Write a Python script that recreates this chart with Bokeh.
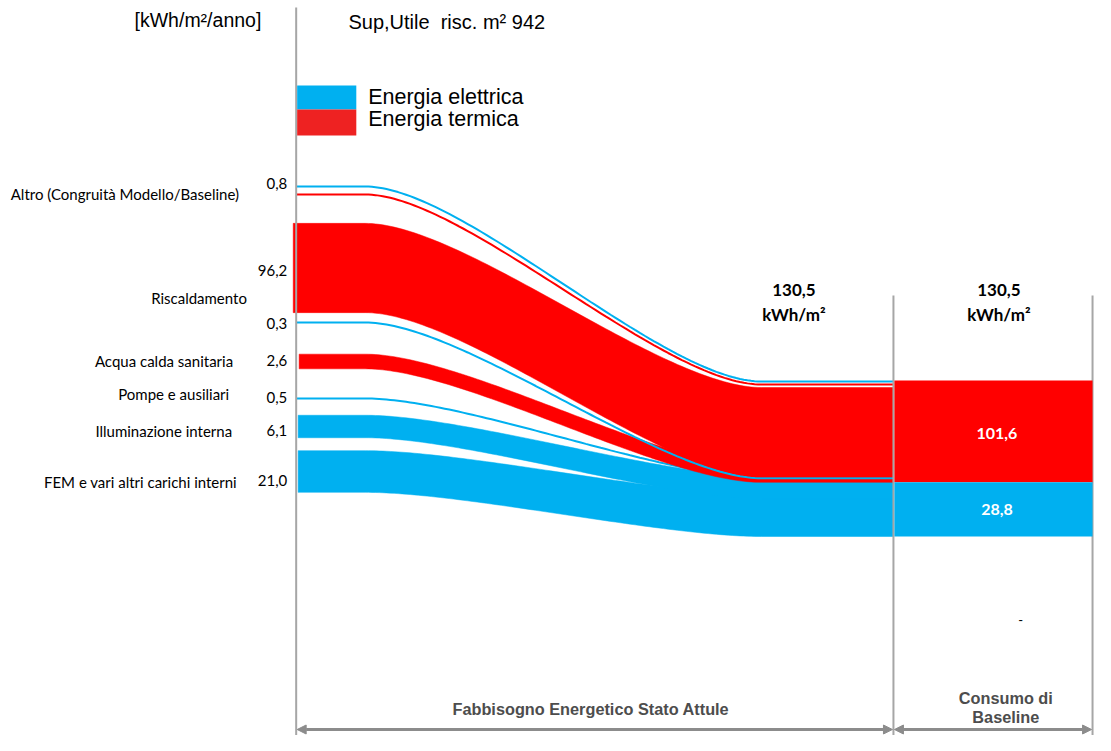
import numpy as np
from bokeh.plotting import figure
from bokeh.models import Range1d, Arrow, NormalHead
from bokeh.core.properties import value
from bokeh.embed import file_html
from bokeh.resources import INLINE

# ------------------------------------------------------------------ data
categories = ["Altro (Congruità Modello/Baseline)", "Riscaldamento",
              "Acqua calda sanitaria", "Pompe e ausiliari",
              "Illuminazione interna", "FEM e vari altri carichi interni"]
row_values = [0.8, 96.2, 0.3, 2.6, 0.5, 6.1, 21.0]          # kWh/m²/anno labels

flow_names = ["Altro E", "Altro T", "Riscaldamento", "Riscaldamento aux",
              "Acqua calda sanitaria", "Pompe e ausiliari",
              "Illuminazione interna", "FEM e vari altri carichi interni"]
flow_carrier = ["E", "T", "T", "E", "T", "E", "E", "E"]
flow_values = [0.4, 0.4, 96.2, 0.3, 2.6, 0.5, 6.1, 21.0]

baseline_carriers = ["T", "E"]
baseline_values = [101.6, 28.8]
total_value = 130.5
surface_m2 = 942

legend_labels = ["Energia elettrica", "Energia termica"]

# ------------------------------------------------------------------ layout / style
BLUE = "#00B0F0"
RED = "#FF0000"
LEG_RED = "#EE2222"
GRAY = "#A6A6A6"
ARROW_GRAY = "#8C8C8C"
CAL = "Lato"
ARIAL = "Liberation Sans"

K_LEFT = 9.1      # px per sqrt(unit) for left bands
K_RIGHT = 10.1    # px per sqrt(unit) for right column
THIN = 2.0
X_LINE, X_MID, X_RIGHT = 300, 906, 1108
X_C0, X_C1, HANDLE = 370, 772, 0.25
RIGHT_TOP = 380
BLUE_OVERLAP = 4

flow_left_center = [186, 194, 267.5, 322, 361, 398, 426, 471]
value_label_y = [183, 270, 323, 360, 397, 430, 480]
name_label_y = [193, 297, 360, 393, 430, 481]
name_label_x = [242, 250, 236, 232, 235, 240]


def fmt(v):
    return f"{v:.1f}".replace(".", ",")


def thickness(v):
    return K_LEFT * np.sqrt(v) if v >= 1 else THIN


def curve(y0, y1, x_start=X_LINE + 1, n=90):
    t = np.linspace(0, 1, n)
    w = X_C1 - X_C0
    x = X_C0 + w * (3 * (1 - t) ** 2 * t * HANDLE + 3 * (1 - t) * t ** 2 * (1 - HANDLE) + t ** 3)
    y = y0 + (y1 - y0) * (3 * t ** 2 - 2 * t ** 3)
    return (np.concatenate([[x_start], x, [X_MID]]),
            np.concatenate([[y0], y, [y1]]))


th = [thickness(v) for v in flow_values]

# right column extents
col_h = [K_RIGHT * np.sqrt(v) for v in baseline_values]
col_top = [RIGHT_TOP, RIGHT_TOP + col_h[0]]
col_bot = [RIGHT_TOP + col_h[0], RIGHT_TOP + col_h[0] + col_h[1]]

# right-end top edges of each flow
rt = [0.0] * 8
rt[0] = col_top[0]                       # Altro E
rt[1] = rt[0] + th[0] + 1                # Altro T
rt[2] = rt[1] + th[1] + 2                # Riscaldamento
rt[3] = rt[2] + th[2] + 0.5              # Riscaldamento aux (line)
rt[4] = col_bot[0] - th[4]               # Acqua: bottom on red column bottom
rt[7] = col_bot[1] - th[7]               # FEM: bottom on blue column bottom
rt[6] = rt[7] + BLUE_OVERLAP - th[6]     # Illuminazione
rt[5] = rt[6]                            # Pompe (line)

left_start = [X_LINE, X_LINE, X_LINE - 3, X_LINE, X_LINE + 3, X_LINE, X_LINE + 2, X_LINE + 2]
draw_order = [7, 6, 5, 4, 3, 2, 1, 0]

# ------------------------------------------------------------------ figure
p = figure(width=1095, height=735, output_backend="svg", toolbar_location=None,
           x_range=Range1d(0, 1111), y_range=Range1d(735, 0),
           x_axis_location=None, y_axis_location=None, min_border=0)
p.grid.visible = False
p.outline_line_color = None
p.background_fill_color = "white"
p.border_fill_color = "white"

# flows
for i in draw_order:
    col = BLUE if flow_carrier[i] == "E" else RED
    lt = flow_left_center[i] - th[i] / 2
    if flow_values[i] >= 1:
        xt, yt = curve(lt, rt[i], left_start[i])
        xb, yb = curve(lt + th[i], rt[i] + th[i], left_start[i])
        p.patch(x=list(xt) + list(xb[::-1]), y=list(yt) + list(yb[::-1]),
                fill_color=col, line_color=col, line_width=0.5)
    else:
        xc, yc = curve(flow_left_center[i], rt[i] + th[i] / 2, left_start[i])
        p.line(x=xc, y=yc, line_color=col, line_width=2)

# vertical guide lines
p.segment(x0=[X_LINE, X_MID, X_RIGHT], y0=[7, 295, 295],
          x1=[X_LINE, X_MID, X_RIGHT], y1=[751, 751, 751],
          line_color=GRAY, line_width=2)

# right baseline column
p.quad(left=[X_MID + 1] * 2, right=[X_RIGHT] * 2, top=col_top, bottom=col_bot,
       fill_color=[RED if c == "T" else BLUE for c in baseline_carriers],
       line_color=None)
p.text(x=[1011] * 2, y=[433, 509],
       text=[fmt(v) for v in baseline_values], text_color="white",
       text_font=value(CAL), text_font_style="bold", text_font_size="16px",
       text_align="center", text_baseline="middle")

# totals
for xc in (805, 1013):
    p.text(x=[xc, xc], y=[289, 314], text=[fmt(total_value), "kWh/m²"],
           text_color="black", text_font=value(CAL), text_font_style="bold",
           text_font_size="17px", text_align="center", text_baseline="middle")

# left labels
p.text(x=name_label_x, y=name_label_y, text=categories, text_color="black",
       text_font=value(CAL), text_font_size="15px", text_align="right",
       text_baseline="middle")
p.text(x=[291] * len(row_values), y=value_label_y, text=[fmt(v) for v in row_values],
       text_color="black", text_font=value(CAL), text_font_size="15px",
       text_align="right", text_baseline="middle")

# headers
p.text(x=[136], y=[19], text=["[kWh/m²/anno]"], text_color="black",
       text_font=value(ARIAL), text_font_size="19.5px", text_baseline="middle")
p.text(x=[353], y=[21], text=[f"Sup,Utile\u00a0 risc. m² {surface_m2}"], text_color="black",
       text_font=value(ARIAL), text_font_size="20px", text_baseline="middle")

# legend
p.quad(left=[X_LINE + 1] * 2, right=[361] * 2, top=[85, 109], bottom=[109, 135],
       fill_color=[BLUE, LEG_RED], line_color=None)
p.text(x=[373, 373], y=[96, 118], text=legend_labels, text_color="black",
       text_font=value(ARIAL), text_font_size="21.5px", text_baseline="middle")

# bottom arrows and captions
for xa, xb in ((X_LINE, X_MID), (X_MID, X_RIGHT)):
    p.add_layout(Arrow(x_start=xa + 1, y_start=729, x_end=xb - 1, y_end=729,
                       line_color=ARROW_GRAY, line_width=3,
                       start=NormalHead(size=9, fill_color=ARROW_GRAY, line_color=ARROW_GRAY),
                       end=NormalHead(size=9, fill_color=ARROW_GRAY, line_color=ARROW_GRAY)))
p.text(x=[599], y=[708], text=["Fabbisogno Energetico Stato Attule"], text_color="#4D4D4D",
       text_font=value(ARIAL), text_font_style="bold", text_font_size="16.3px",
       text_align="center", text_baseline="middle")
p.text(x=[1020, 1020], y=[697, 716], text=["Consumo di", "Baseline"], text_color="#4D4D4D",
       text_font=value(ARIAL), text_font_style="bold", text_font_size="16.3px",
       text_align="center", text_baseline="middle")
p.text(x=[1035], y=[619], text=["-"], text_color="black", text_font=value(CAL),
       text_font_size="13px", text_align="center", text_baseline="middle")

open("out.html", "w").write(file_html(p, INLINE))
